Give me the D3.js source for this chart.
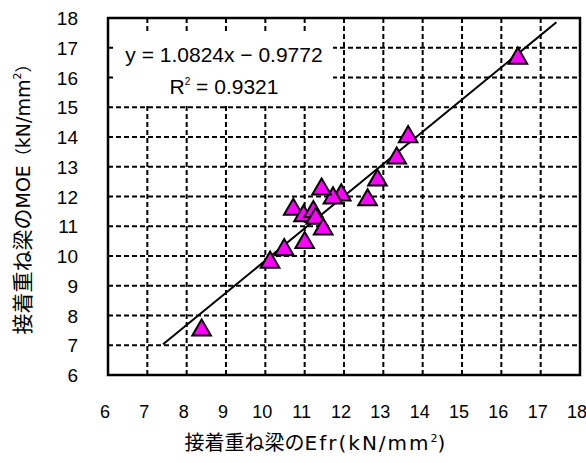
<!DOCTYPE html>
<html>
<head>
<meta charset="utf-8">
<script src="https://cdn.jsdelivr.net/npm/d3@7"></script>
<style>
  html, body { margin: 0; padding: 0; background: #fff; }
  svg { display: block; }
  .num { font-family: "Liberation Sans", Arial, sans-serif; fill: #000; }
  .jp { font-family: "Noto Sans CJK JP", "Liberation Sans", sans-serif; fill: #000; }
  .lat { font-family: "DejaVu Sans", "Liberation Sans", sans-serif; }
</style>
</head>
<body>
<svg id="chart" width="586" height="463"></svg>
<script>
// Measured specimens: flexural modulus Efr vs. MOE of glued laminated beams (kN/mm²)
const efr = [16.42, 13.63, 13.34, 12.85, 12.60, 11.93, 11.72, 11.43, 10.71, 10.97, 11.22, 11.28, 11.47, 11.00, 10.48, 10.12, 8.38];
const moe = [16.68, 14.04, 13.32, 12.58, 11.92, 12.08, 11.98, 12.28, 11.60, 11.38, 11.52, 11.30, 10.94, 10.48, 10.24, 9.82, 7.54];

// Axis ticks (same on both axes)
const xTicks = [6, 7, 8, 9, 10, 11, 12, 13, 14, 15, 16, 17, 18];
const yTicks = [6, 7, 8, 9, 10, 11, 12, 13, 14, 15, 16, 17, 18];

// Linear trendline y = a·x + b, drawn over an extended x range
const slope = 1.0824;
const intercept = -0.9772;
const r2 = 0.9321;
const trendRange = [7.4, 17.4];

const svg = d3.select("#chart");
const plot = { left: 108, right: 580, top: 18, bottom: 375 };

const x = d3.scaleLinear().domain([6, 18]).range([plot.left, plot.right]);
const y = d3.scaleLinear().domain([6, 18]).range([plot.bottom, plot.top]);

// Dashed gridlines
const grid = svg.append("g").attr("stroke", "#000").attr("stroke-width", 2)
  .attr("stroke-dasharray", "5,3");
grid.selectAll("line.v").data(xTicks.slice(1, -1)).join("line")
  .attr("x1", d => x(d)).attr("x2", d => x(d))
  .attr("y1", plot.top).attr("y2", plot.bottom);
grid.selectAll("line.h").data(yTicks.slice(1, -1)).join("line")
  .attr("x1", plot.left).attr("x2", plot.right)
  .attr("y1", d => y(d)).attr("y2", d => y(d));

// Equation label box (opaque, hides gridlines)
const eq = svg.append("g");
eq.append("rect").attr("x", 113).attr("y", 34).attr("width", 220).attr("height", 70).attr("fill", "#fff");
eq.append("text").attr("class", "num").attr("x", 224).attr("y", 62)
  .attr("text-anchor", "middle").attr("font-size", 21)
  .text(`y = ${slope}x \u2212 ${Math.abs(intercept)}`);
const rt = eq.append("text").attr("class", "num").attr("x", 224).attr("y", 94)
  .attr("text-anchor", "middle").attr("font-size", 21);
rt.append("tspan").text("R");
rt.append("tspan").attr("font-size", 10).attr("dy", -9).text("2");
rt.append("tspan").attr("dy", 9).text(` = ${r2}`);

// Trendline
svg.append("line")
  .attr("x1", x(trendRange[0])).attr("y1", y(slope * trendRange[0] + intercept))
  .attr("x2", x(trendRange[1])).attr("y2", y(slope * trendRange[1] + intercept))
  .attr("stroke", "#000").attr("stroke-width", 2);

// Triangle markers
const tri = d3.symbol().type(d3.symbolTriangle).size(150);
svg.append("g").selectAll("path").data(efr.map((v, i) => [v, moe[i]])).join("path")
  .attr("d", tri)
  .attr("transform", d => `translate(${x(d[0])},${y(d[1]) + 1})`)
  .attr("fill", "#ff00ff").attr("stroke", "#000").attr("stroke-width", 2)
  .attr("stroke-linejoin", "miter");

// Plot frame
svg.append("rect")
  .attr("x", plot.left).attr("y", plot.top)
  .attr("width", plot.right - plot.left).attr("height", plot.bottom - plot.top)
  .attr("fill", "none").attr("stroke", "#000").attr("stroke-width", 2.5);

// Tick labels
svg.append("g").selectAll("text").data(xTicks).join("text")
  .attr("class", "num").attr("font-size", 18)
  .attr("x", d => x(d) - 3).attr("y", 418).attr("text-anchor", "middle")
  .text(d => d);
svg.append("g").selectAll("text").data(yTicks).join("text")
  .attr("class", "num").attr("font-size", 19)
  .attr("x", 78).attr("y", d => y(d) + 7).attr("text-anchor", "end")
  .text(d => d);

// Axis titles
const xt = svg.append("text").attr("class", "jp").attr("font-size", 20)
  .attr("x", 315).attr("y", 450).attr("text-anchor", "middle");
xt.append("tspan").text("接着重ね梁の");
xt.append("tspan").attr("class", "lat").attr("font-size", 20).attr("letter-spacing", 2).text("Efr(kN/mm");
xt.append("tspan").attr("class", "lat").attr("font-size", 11).attr("dy", -8).text("2");
xt.append("tspan").attr("class", "lat").attr("dy", 8).text(")");

const yt = svg.append("text").attr("class", "jp").attr("font-size", 21)
  .attr("transform", "translate(30,195) rotate(-90)").attr("text-anchor", "middle");
yt.append("tspan").text("接着重ね梁の");
yt.append("tspan").attr("class", "lat").attr("font-size", 19).text("MOE");
yt.append("tspan").attr("font-size", 17).text("（");
yt.append("tspan").attr("class", "lat").attr("font-size", 19).text("kN/mm");
yt.append("tspan").attr("class", "lat").attr("font-size", 11).attr("dy", -9).text("2");
yt.append("tspan").attr("font-size", 17).attr("dy", 9).text("）");
</script>
</body>
</html>
